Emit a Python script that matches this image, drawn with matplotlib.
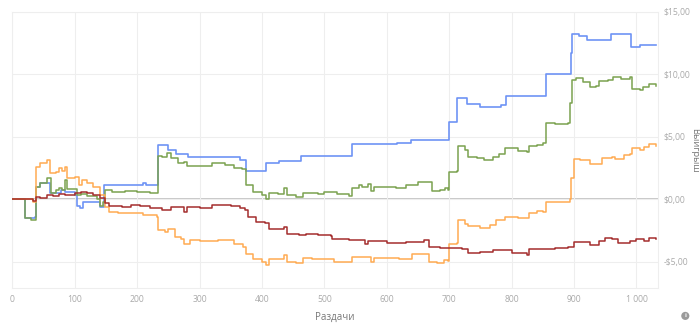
import matplotlib
matplotlib.use('Agg')
import matplotlib.pyplot as plt
from matplotlib.ticker import FuncFormatter

plt.rcParams['font.family'] = ['Open Sans', 'DejaVu Sans']

# Данные (раздачи, выигрыш в $) -------------------------------------------------
blue_x = [0, 20, 36, 38, 45, 61, 78, 85, 100, 104, 108, 113, 140, 147, 210, 214, 233, 249, 263, 282,
          364, 374, 407, 427, 463, 545, 617, 638, 700, 713, 729, 750, 783, 791, 828, 855, 895, 897,
          908, 921, 959, 991, 1006, 1032]
blue_y = [0.0, -1.52, -1.4, 1.0, 1.34, 0.53, 0.75, 0.6, 0.35, -0.5, -0.7, -0.2, -0.6, 1.15, 1.28, 1.15,
          4.36, 3.96, 3.64, 3.42, 3.16, 2.27, 2.89, 3.1, 3.5, 4.44, 4.55, 4.76, 6.18, 8.1, 7.62, 7.43,
          7.55, 8.24, 8.3, 10.05, 11.7, 13.2, 13.05, 12.73, 13.2, 12.17, 12.38, 12.38]

green_x = [0, 20, 30, 38, 45, 55, 62, 70, 75, 80, 85, 88, 103, 110, 120, 135, 140, 145, 148, 160, 180,
           200, 220, 234, 240, 248, 255, 265, 275, 280, 300, 320, 340, 355, 368, 375, 385, 400, 407,
           412, 425, 435, 440, 455, 465, 480, 490, 500, 520, 540, 545, 555, 560, 570, 575, 580, 600,
           615, 630, 650, 668, 672, 685, 693, 698, 700, 712, 714, 725, 730, 745, 755, 770, 780, 790,
           810, 825, 827, 840, 850, 855, 870, 890, 893, 897, 903, 915, 925, 935, 940, 955, 962, 975,
           990, 993, 1005, 1010, 1020, 1032]
green_y = [0.0, -1.52, -1.65, 1.0, 1.3, 1.68, 0.53, 0.75, 0.88, 0.75, 1.55, 0.8, 0.35, 0.4, 0.27, 0.0,
           -0.53, -0.2, 0.75, 0.6, 0.7, 0.6, 0.48, 3.48, 3.42, 3.74, 3.29, 2.89, 3.0, 2.7, 2.7, 2.89,
           2.75, 2.49, 2.4, 1.15, 0.61, 0.35, 0.0, 0.48, 0.43, 0.88, 0.35, 0.21, 0.53, 0.53, 0.4, 0.61,
           0.4, 0.27, 0.88, 1.15, 1.0, 1.23, 0.7, 1.0, 0.96, 0.88, 1.15, 1.42, 1.37, 0.67, 0.75, 0.88,
           0.75, 2.22, 2.3, 4.3, 3.96, 3.37, 3.3, 3.16, 3.42, 3.64, 4.09, 3.88, 3.83, 4.28, 4.36, 4.49,
           6.15, 6.04, 6.15, 7.7, 9.57, 9.7, 9.36, 8.98, 9.04, 9.44, 9.57, 9.79, 9.63, 9.79, 8.82, 8.76,
           8.98, 9.22, 9.09]

orange_x = [0, 30, 33, 38, 45, 55, 60, 70, 75, 80, 85, 87, 100, 107, 112, 120, 130, 140, 148, 155, 170,
            190, 210, 232, 234, 245, 250, 260, 270, 275, 285, 300, 330, 355, 370, 375, 385, 400, 407,
            412, 430, 435, 440, 455, 465, 480, 500, 515, 540, 545, 560, 575, 580, 600, 620, 640, 660,
            668, 680, 692, 698, 700, 712, 714, 725, 730, 750, 765, 775, 790, 810, 825, 827, 840, 850,
            855, 870, 893, 895, 900, 910, 925, 935, 945, 960, 965, 980, 990, 993, 1005, 1012, 1020, 1032]
orange_y = [0.0, 0.05, -0.2, 2.62, 2.89, 3.16, 2.09, 2.22, 2.49, 2.3, 2.62, 1.68, 1.82, 1.15, 1.55, 1.28,
            1.02, 0.35, -0.59, -1.0, -1.12, -1.07, -1.25, -1.44, -2.46, -2.59, -2.33, -3.0, -3.13, -3.53,
            -3.21, -3.3, -3.21, -3.53, -3.8, -4.33, -4.73, -5.0, -5.27, -4.73, -4.81, -4.47, -5.0, -5.13,
            -4.65, -4.73, -4.81, -5.0, -5.0, -4.6, -4.6, -5.0, -4.65, -4.65, -4.73, -4.38, -4.33, -5.0,
            -5.13, -4.87, -4.92, -3.53, -3.48, -1.66, -1.93, -2.14, -2.25, -2.06, -1.66, -1.39, -1.52,
            -1.52, -1.12, -0.91, -0.99, -0.19, -0.19, 0.0, 1.68, 3.2, 3.15, 2.83, 2.83, 3.29, 3.42, 3.2,
            3.56, 3.64, 4.09, 3.96, 4.22, 4.41, 4.28]

red_x = [0, 30, 33, 38, 45, 55, 65, 75, 85, 100, 110, 120, 130, 140, 148, 155, 175, 190, 205, 220, 240,
         255, 270, 275, 280, 300, 320, 350, 365, 373, 378, 390, 405, 412, 430, 435, 440, 460, 470, 490,
         510, 512, 520, 540, 555, 565, 570, 580, 600, 630, 660, 668, 685, 700, 720, 730, 750, 770, 790,
         800, 825, 827, 850, 870, 890, 900, 910, 925, 940, 950, 960, 970, 990, 1000, 1012, 1020, 1032]
red_y = [0.05, 0.05, -0.15, 0.21, 0.08, 0.35, 0.27, 0.43, 0.35, 0.48, 0.61, 0.53, 0.35, 0.08, -0.32,
         -0.53, -0.59, -0.45, -0.53, -0.72, -0.86, -0.59, -0.64, -1.0, -0.59, -0.72, -0.45, -0.53, -0.72,
         -0.86, -1.39, -1.79, -1.92, -2.33, -2.33, -2.2, -2.73, -2.86, -2.73, -2.86, -2.94, -3.2, -3.13,
         -3.26, -3.21, -3.53, -3.32, -3.32, -3.48, -3.4, -3.26, -3.8, -3.85, -3.85, -4.0, -4.28, -4.2,
         -4.06, -4.06, -4.28, -4.47, -3.93, -3.93, -3.85, -3.8, -3.4, -3.4, -3.66, -3.32, -3.05, -3.13,
         -3.48, -3.32, -3.13, -3.32, -3.05, -3.18]

x_ticks = [0, 100, 200, 300, 400, 500, 600, 700, 800, 900, 1000]
y_ticks = [-5, 0, 5, 10, 15]

# Wykres --------------------------------------------------------------------------
fig = plt.figure(figsize=(7, 3.23), dpi=100)
ax = fig.add_axes([0.0176, 0.108, 0.922, 0.855])

ax.axhline(0, color='#bdbdbd', lw=1.2, zorder=1)
ax.plot(blue_x, blue_y, color='#6e93f5', lw=1.2, drawstyle='steps-post', zorder=3)
ax.plot(green_x, green_y, color='#7ba24f', lw=1.1, drawstyle='steps-post', zorder=3)
ax.plot(orange_x, orange_y, color='#ffab52', lw=1.1, drawstyle='steps-post', zorder=3)
ax.plot(red_x, red_y, color='#a42d2d', lw=1.1, drawstyle='steps-post', zorder=3)

ax.set_xlim(0, 1034)
ax.set_ylim(-7.1, 15)
ax.set_xticks(x_ticks)
ax.set_yticks(y_ticks)
ax.xaxis.set_major_formatter(FuncFormatter(lambda v, p: f'{int(v):,}'.replace(',', ' ')))


def money(v, p):
    s = f'${abs(v):.2f}'.replace('.', ',')
    return '-' + s if v < 0 else s


ax.yaxis.set_major_formatter(FuncFormatter(money))
ax.yaxis.tick_right()
ax.yaxis.set_label_position('right')
ax.tick_params(axis='both', length=0, labelsize=6.2, labelcolor='#aaaaaa')
ax.tick_params(axis='y', pad=4)
ax.tick_params(axis='x', pad=5)
ax.grid(True, color='#eeeeee', lw=0.8, zorder=0)
for s in ax.spines.values():
    s.set_color('#eeeeee')
    s.set_linewidth(0.8)

ax.set_xlabel('Раздачи', fontsize=7, color='#777777', labelpad=6)
ax.set_ylabel('Выигрыш', fontsize=6.8, color='#777777', rotation=270, va='center')
ax.yaxis.set_label_coords(1.057, 0.5)

fig.text(0.979, 0.022, 'i', fontsize=4.5, color='white', ha='center', va='center', fontweight='bold',
         bbox=dict(boxstyle='circle,pad=0.25', fc='#9a9a9a', ec='none'))

fig.savefig('out.png', dpi=100)
